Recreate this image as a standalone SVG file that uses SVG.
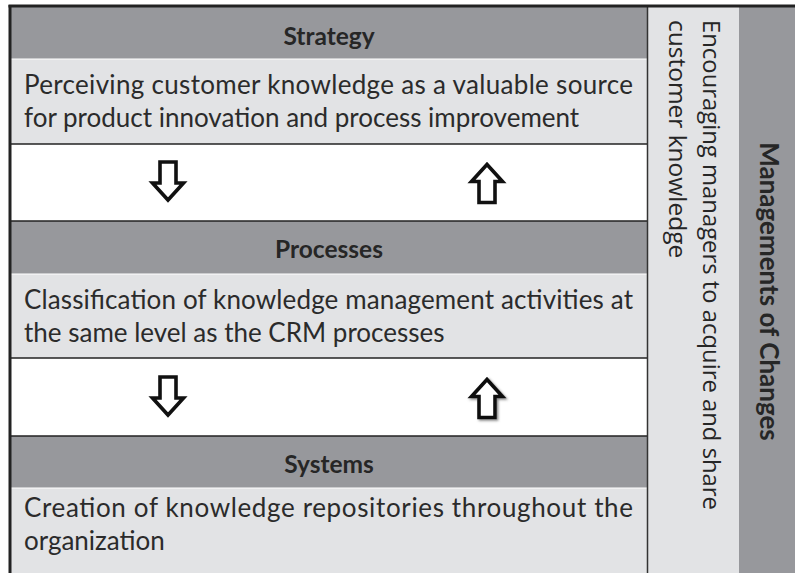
<svg xmlns="http://www.w3.org/2000/svg" width="795" height="573" viewBox="0 0 795 573">
  <style>
    .hdr { fill: #97989c; }
    .body { fill: #e2e3e5; }
    .rule { stroke: #222222; stroke-width: 1.5; }
    .hl { stroke: #ffffff; stroke-width: 1.2; }
    .title { font-family: Lato, "Liberation Sans", sans-serif; font-weight: bold; font-size: 24.5px; fill: #262626; text-anchor: middle; }
    .txt { font-family: Lato, "Liberation Sans", sans-serif; font-size: 26px; fill: #2b2b2b; }
    .vtxt { font-family: "Open Sans", "Liberation Sans", sans-serif; font-size: 24.5px; fill: #262626; }
    .vtitle { font-family: Lato, "Liberation Sans", sans-serif; font-weight: bold; font-size: 26px; fill: #262626; text-anchor: middle; }
    .arrow { fill: #ffffff; stroke: #111111; stroke-width: 3.6; stroke-linejoin: miter; }
  </style>
  <defs>
    <path id="down" d="M -8,0 H 8 V 21 H 15.5 L 0,38 L -15.5,21 H -8 Z"/>
    <path id="up" d="M -8,38 H 8 V 17 H 15.5 L 0,0 L -15.5,17 H -8 Z"/>
    <filter id="shadow" x="-30%" y="-30%" width="160%" height="160%">
      <feDropShadow dx="1.5" dy="1.5" stdDeviation="0.8" flood-color="#666666" flood-opacity="0.8"/>
    </filter>
  </defs>

  <rect x="0" y="0" width="795" height="573" fill="#ffffff"/>

  <!-- right-hand columns -->
  <g id="change-management">
    <rect x="648" y="7" width="91" height="566" class="body"/>
    <rect x="739" y="7" width="56" height="566" class="hdr"/>
    <text class="vtxt" transform="translate(703,20) rotate(90)" textLength="490" lengthAdjust="spacingAndGlyphs">Encouraging managers to acquire and share</text>
    <text class="vtxt" transform="translate(669,20) rotate(90)">customer knowledge</text>
    <text class="vtitle" transform="translate(760,291.5) rotate(90)">Managements of Changes</text>
  </g>

  <!-- strategy level -->
  <g id="strategy">
    <rect x="11" y="7" width="637" height="52" class="hdr"/>
    <rect x="11" y="59" width="637" height="85" class="body"/>
    <line x1="11" y1="59" x2="647" y2="59" class="hl"/>
    <text class="title" x="329" y="45">Strategy</text>
    <text class="txt" x="24" y="94" textLength="609" lengthAdjust="spacing">Perceiving customer knowledge as a valuable source</text>
    <text class="txt" x="24" y="127">for product innovation and process improvement</text>
  </g>

  <!-- processes level -->
  <g id="processes">
    <rect x="11" y="221" width="637" height="53" class="hdr"/>
    <rect x="11" y="274" width="637" height="84" class="body"/>
    <line x1="11" y1="274" x2="647" y2="274" class="hl"/>
    <text class="title" x="329" y="258">Processes</text>
    <text class="txt" x="24" y="309" textLength="609" lengthAdjust="spacing">Classification of knowledge management activities at</text>
    <text class="txt" x="24" y="342">the same level as the CRM processes</text>
  </g>

  <!-- systems level -->
  <g id="systems">
    <rect x="11" y="436" width="637" height="52" class="hdr"/>
    <rect x="11" y="488" width="637" height="85" class="body"/>
    <line x1="11" y1="488" x2="647" y2="488" class="hl"/>
    <text class="title" x="329" y="473">Systems</text>
    <text class="txt" x="24" y="517" textLength="609" lengthAdjust="spacing">Creation of knowledge repositories throughout the</text>
    <text class="txt" x="24" y="550">organization</text>
  </g>

  <!-- frame and rules -->
  <g id="frame">
    <line x1="11" y1="144" x2="647" y2="144" class="rule"/>
    <line x1="11" y1="221" x2="647" y2="221" class="rule"/>
    <line x1="11" y1="358" x2="647" y2="358" class="rule"/>
    <line x1="11" y1="436" x2="647" y2="436" class="rule"/>
    <line x1="647.5" y1="6" x2="647.5" y2="573" stroke="#333333" stroke-width="1.5"/>
    <line x1="10" y1="5" x2="10" y2="573" stroke="#222222" stroke-width="3"/>
    <line x1="8.5" y1="6" x2="795" y2="6" stroke="#222222" stroke-width="3"/>
  </g>

  <!-- flow arrows between levels -->
  <g id="connectors">
    <use href="#down" class="arrow" transform="translate(168,162)"/>
    <use href="#up" class="arrow" transform="translate(487,164.5)"/>
    <use href="#down" class="arrow" transform="translate(168,377)"/>
    <use href="#up" class="arrow" transform="translate(487,379.5)" filter="url(#shadow)"/>
  </g>
</svg>
